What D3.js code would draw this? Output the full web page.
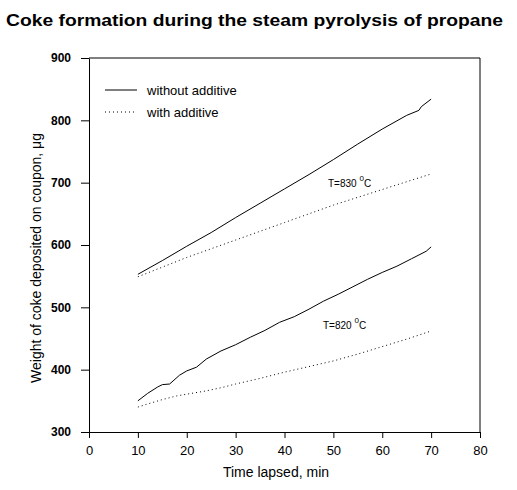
<!DOCTYPE html>
<html><head><meta charset="utf-8">
<script src="https://cdn.jsdelivr.net/npm/d3@7"></script>
<style>body{margin:0;background:#fff}svg{display:block}text{font-family:"Liberation Sans",Arial,sans-serif;fill:#000}</style>
</head><body><svg id="c" width="517" height="490"></svg>
<script>
const title = "Coke formation during the steam pyrolysis of propane";
const xLabel = "Time lapsed, min";
const yLabel = "Weight of coke deposited on coupon, μg";
const xTicks = [0,10,20,30,40,50,60,70,80];
const yTicks = [300,400,500,600,700,800,900];
const legendLabels = ["without additive","with additive"];

const t830Without = [10,15,20,25,30,35,40,45,50,55,60,65,67.5,68,70];
const v830Without = [553,575,598,620,644,667,690,713,737,762,786,808,816,822,834];
const t830With = [10,20,30,40,50,60,70];
const v830With = [549,580,608,636,664,689,714];
const t820Without = [10,12,14,15,16.5,18.5,20,22,24,27,30,33,36,39,42,45,48,51,54,57,60,63,66,69,70];
const v820Without = [350,362,372,376,377,391,398,404,417,430,440,452,463,476,485,497,510,521,533,545,556,566,578,590,597];
const t820With = [10,12,15,18,21,24,27,30,35,40,45,50,55,60,65,70];
const v820With = [340,345,352,358,362,366,371,377,386,396,405,414,425,437,449,462];

const svg = d3.select("#c");
const x = d3.scaleLinear().domain([0,80]).range([89,480]);
const y = d3.scaleLinear().domain([300,900]).range([432,58]);

svg.append("text").attr("x",6).attr("y",26).attr("font-size",17).attr("font-weight","bold")
  .attr("textLength",497).attr("lengthAdjust","spacingAndGlyphs").text(title);

// frame
svg.append("line").attr("x1",x(0)).attr("x2",x(80)).attr("y1",y(900)).attr("y2",y(900)).attr("stroke","#000");
svg.append("line").attr("x1",x(80)).attr("x2",x(80)).attr("y1",y(900)).attr("y2",y(300)).attr("stroke","#000");

const xa = svg.append("g").attr("transform",`translate(0,${y(300)})`)
  .call(d3.axisBottom(x).tickValues(xTicks).tickSize(6).tickPadding(8).tickSizeOuter(0));
const ya = svg.append("g").attr("transform",`translate(${x(0)},0)`)
  .call(d3.axisLeft(y).tickValues(yTicks).tickSize(8).tickPadding(10).tickSizeOuter(0));
[xa,ya].forEach(g=>{g.select(".domain").attr("stroke","#000");g.selectAll("line").attr("stroke","#000");
  g.selectAll("text").attr("font-size",13).attr("font-family","Liberation Sans,Arial,sans-serif").attr("fill","#000");});
ya.selectAll("text").attr("font-size",12).attr("font-weight","bold");

svg.append("text").attr("x",276).attr("y",477).attr("text-anchor","middle").attr("font-size",14).text(xLabel);
svg.append("text").attr("transform","translate(41,258) rotate(-90)").attr("text-anchor","middle").attr("font-size",14).text(yLabel);

const line = d3.line().x(d=>x(d[0])).y(d=>y(d[1]));
const zip = (a,b)=>a.map((t,i)=>[t,b[i]]);
const series = [
  {d:zip(t830Without,v830Without),dash:null},
  {d:zip(t830With,v830With),dash:"1,3"},
  {d:zip(t820Without,v820Without),dash:null},
  {d:zip(t820With,v820With),dash:"1,3"}
];
series.forEach(s=>{
  svg.append("path").attr("d",line(s.d)).attr("fill","none").attr("stroke","#000").attr("stroke-width",1)
    .attr("stroke-dasharray",s.dash);
});

// legend
svg.append("line").attr("x1",105).attr("x2",137).attr("y1",90).attr("y2",90).attr("stroke","#000");
svg.append("line").attr("x1",105).attr("x2",137).attr("y1",112).attr("y2",112).attr("stroke","#000").attr("stroke-dasharray","1,3");
svg.append("text").attr("x",147).attr("y",95).attr("font-size",13).text(legendLabels[0]);
svg.append("text").attr("x",147).attr("y",117).attr("font-size",13).text(legendLabels[1]);

// annotations
function ann(tx,ty,label){
  const t = svg.append("text").attr("x",tx).attr("y",ty).attr("font-size",10);
  t.append("tspan").text(label+" ");
  t.append("tspan").attr("dy",-6).attr("font-size",8).text("0");
  t.append("tspan").attr("dy",6).text("C");
}
ann(328,187,"T=830");
ann(323,329,"T=820");
</script></body></html>
